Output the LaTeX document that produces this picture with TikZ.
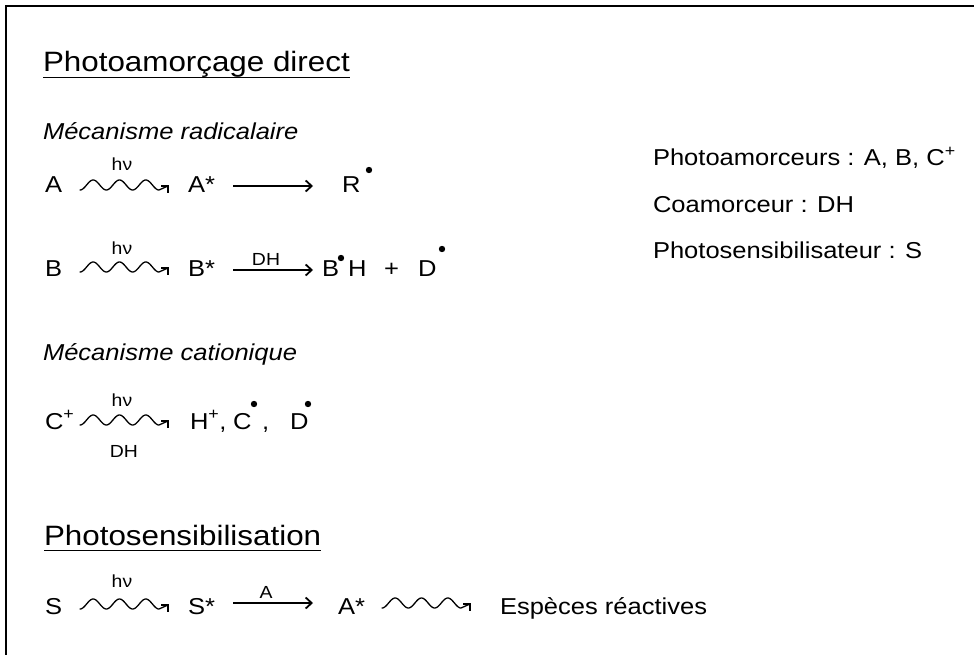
\documentclass[tikz,border=0pt]{standalone}
\usepackage{fontspec}
\setmainfont{Liberation Sans}[FakeStretch=1.11]
\newfontfamily\headfont{Liberation Sans}[FakeStretch=1.12]
\usetikzlibrary{arrows.meta}
\tikzset{
  txt/.style={inner sep=0pt, outer sep=0pt, anchor=base west, font=\fontsize{23}{27}\selectfont},
  lbl/.style={inner sep=0pt, outer sep=0pt, anchor=base, font=\fontsize{17.5}{20}\selectfont},
  head/.style={inner sep=0pt, outer sep=0pt, anchor=base west, font=\headfont\fontsize{28}{32}\selectfont},
  ital/.style={txt, font=\fontsize{23}{27}\selectfont\itshape},
  rarrow/.style={line width=1.6pt, -{Straight Barb[length=6pt,width=11pt,line width=1.8pt]}},
  uline/.style={line width=1.8pt},
  radical/.style={fill=black},
  wavy/.pic={
    \draw[line width=1.3pt, line join=round, line cap=round]
      plot[domain=0:79, samples=90, smooth] (\x,{5*cos(\x*13.673)}) -- (88,1);
    \draw[line width=1.3pt, line join=miter] (81,1) -- (88,1) -- (88,8);
  }
}
\begin{document}
\begin{tikzpicture}[x=1pt,y=-1pt]
\useasboundingbox[fill=white] (0,0) rectangle (974,655);
% frame
\draw[line width=2pt] (6,655) -- (6,6) -- (974,6);

% heading 1
\node[head] (h1) at (43,72) {Photoamorçage direct};
\draw[uline] ([yshift=-5.5pt]h1.base west) -- ([yshift=-5.5pt]h1.base east);

\node[ital] (m1) at (43,140) {Mécanisme radicalaire};

% row A
\node[txt] (A) at (45,193) {A};
\pic (wa) at (80,185) {wavy};
\node[lbl] (hva) at (122,171) {hν};
\node[txt] (As) at (188,193) {A*};
\coordinate (a1s) at (233,186);
\coordinate (a1e) at (313,186);
\draw[rarrow] (a1s) -- (a1e);
\node[txt] (R) at (342,193) {R};
\fill[radical] (369,170) circle (3.2);

% row B
\node[txt] (B) at (45,276) {B};
\pic (wb) at (80,267) {wavy};
\node[lbl] (hvb) at (122,254) {hν};
\node[txt] (Bs) at (188,276) {B*};
\coordinate (b1s) at (233,270);
\coordinate (b1e) at (313,270);
\draw[rarrow] (b1s) -- (b1e);
\node[lbl] (dhb) at (266,265) {DH};
\node[txt] (B2) at (322,276) {B};
\fill[radical] (341,258) circle (3.2);
\node[txt] (H2) at (348,276) {H};
\node[txt] (pl) at (384,276) {+};
\node[txt] (D2) at (418,276) {D};
\fill[radical] (442,249) circle (3.2);

% cationic
\node[ital] (m2) at (43,360) {Mécanisme cationique};
\node[txt] (C) at (45,429) {C\textsuperscript{+}};
\pic (wc) at (80,420) {wavy};
\node[lbl] (hvc) at (122,406) {hν};
\node[lbl] (dhc) at (124,457) {DH};
\node[txt] (Hp) at (190,429) {H\textsuperscript{+},};
\node[txt] (C3) at (233,429) {C};
\fill[radical] (254,404) circle (3.2);
\node[txt] (cm) at (262,429) {,};
\node[txt] (D3) at (290,429) {D};
\fill[radical] (308,404) circle (3.2);

% heading 2
\node[head] (h2) at (44,545) {Photosensibilisation};
\draw[uline] ([yshift=-5.5pt]h2.base west) -- ([yshift=-5.5pt]h2.base east);

% row S
\node[txt] (S) at (45,614) {S};
\pic (ws) at (80,604) {wavy};
\node[lbl] (hvs) at (122,587) {hν};
\node[txt] (Ss) at (188,614) {S*};
\coordinate (s1s) at (233,603);
\coordinate (s1e) at (313,603);
\draw[rarrow] (s1s) -- (s1e);
\node[lbl] (la) at (266,598) {A};
\node[txt] (As2) at (338,614) {A*};
\pic (ws2) at (382,603) {wavy};
\node[txt] (esp) at (500,614) {Espèces réactives};

% right column
\node[txt] (r1) at (653,166) {Photoamorceurs : A, B, C\textsuperscript{+}};
\node[txt] (r2) at (653,212) {Coamorceur : DH};
\node[txt] (r3) at (653,258) {Photosensibilisateur : S};
\end{tikzpicture}
\end{document}
